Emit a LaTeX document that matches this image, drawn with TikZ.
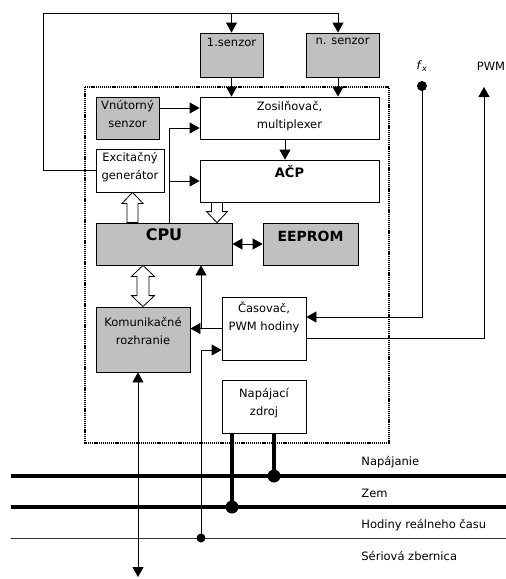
\documentclass[tikz,border=0pt]{standalone}
\usepackage{fontspec}
\setmainfont{DejaVu Sans}
\usetikzlibrary{arrows.meta,calc}
\definecolor{boxgray}{RGB}{192,192,192}
\newcommand{\bxt}[4]{\parbox[c][#2pt][t]{#1pt}{\centering\vspace*{#3pt}#4\par}}
\newcommand{\blockarrow}[2]{%
  \draw[fill=white, line width=0.8pt] let \p1=#1, \p2=#2, \n1={ifthenelse(\y2>\y1,1,-1)} in
  (\x1-5.5pt,\y1) -- (\x1-5.5pt,\y2-\n1*11pt) -- (\x1-10.5pt,\y2-\n1*11pt) -- (\x1,\y2)
  -- (\x1+10.5pt,\y2-\n1*11pt) -- (\x1+5.5pt,\y2-\n1*11pt) -- (\x1+5.5pt,\y1) -- cycle;}
\newcommand{\dblockarrow}[2]{%
  \draw[fill=white, line width=0.8pt] let \p1=#1, \p2=#2 in
  (\x1,\y1) -- (\x1+11.5pt,\y1-11pt) -- (\x1+6pt,\y1-11pt) -- (\x1+6pt,\y2+11pt)
  -- (\x1+11.5pt,\y2+11pt) -- (\x1,\y2) -- (\x1-11.5pt,\y2+11pt) -- (\x1-6pt,\y2+11pt)
  -- (\x1-6pt,\y1-11pt) -- (\x1-11.5pt,\y1-11pt) -- cycle;}
\begin{document}
\begin{tikzpicture}[x=1pt,y=-1pt,line width=0.8pt,
  >={Triangle[length=10pt,width=11pt]},
  font=\fontsize{11.5}{18}\selectfont,
  box/.style={draw,line width=0.8pt,inner sep=0pt,fill=white},
  gbox/.style={box,fill=boxgray},
  lbl/.style={inner sep=0pt,anchor=west},
  bus/.style={line width=4pt},
  thinbus/.style={line width=0.9pt,black!80}]
\useasboundingbox (0,0) rectangle (506,579);

% dotted frame
\draw[line width=1.6pt,dash pattern=on 1.2pt off 0.9pt] (85,87) rectangle (389,443);

% boxes
\node[gbox] (s1) at (231.5,55) {\bxt{63}{44}{5}{1.senzor}};
\node[gbox] (sn) at (342.5,55) {\bxt{73}{44}{5}{n. senzor}};
\node[gbox] (vs) at (127.5,118) {\bxt{63}{42}{3}{Vnútorný\\senzor}};
\node[box] (zm) at (289.5,118) {\bxt{179}{42}{4.5}{Zosilňovač,\\multiplexer}};
\node[box] (eg) at (130,170.5) {\bxt{68}{43}{3.5}{Excitačný\\generátor}};
\node[box] (acp) at (289.5,181) {\bxt{179}{42}{5}{\fontsize{13}{18}\selectfont\textbf{AČP}}};
\node[gbox] (cpu) at (164,244) {\bxt{136}{42}{6}{\fontsize{16}{18}\selectfont\textbf{CPU}}};
\node[gbox] (ee) at (310.5,244) {\bxt{95}{42}{8.5}{\fontsize{14}{18}\selectfont\textbf{EEPROM}}};
\node[gbox] (kom) at (143,339.5) {\bxt{94}{65}{10}{Komunikačné\\rozhranie}};
\node[box] (cas) at (264,328.5) {\bxt{84}{63}{5}{Časovač,\\PWM hodiny}};
\node[box] (nap) at (264,406.5) {\bxt{84}{53}{8}{Napájací\\zdroj}};

% helper coordinates
\coordinate (tl) at (43,13);
\coordinate (snin) at ([xshift=-4.5pt]sn.north);
\coordinate (j1) at (169,128);
\coordinate (xj) at (201,0);
\coordinate (ba) at (217,0);
\coordinate (bb) at (132.5,0);
\coordinate (kb) at (138,577);
\coordinate (fxd) at (422,86);
\coordinate (pwmtip) at (484,87);
\coordinate (napL) at (11,476); \coordinate (napR) at (506,476);
\coordinate (zemL) at (11,507); \coordinate (zemR) at (506,507);
\coordinate (hodL) at (11,538); \coordinate (hodR) at (506,538);
\coordinate (pz1) at ([xshift=-32pt]nap.south);
\coordinate (pz2) at ([xshift=10pt]nap.south);

% top feedback loop
\draw[->] (eg.west) -| (tl) -- (tl -| snin) -- (snin);
\draw[->] (tl -| s1.north) -- (s1.north);
\draw[->] (s1.south) -- (s1.south |- zm.north);
\draw[->] ([xshift=-4.5pt]sn.south) -- ([xshift=-4.5pt]sn.south |- zm.north);

% internal connections
\draw[->] ([yshift=10pt]vs.east) -- ([yshift=10pt]vs.east -| zm.west);
\draw[->] (j1 |- cpu.north) -- (j1) -- (j1 -| zm.west);
\draw[->] (j1 |- acp.west) -- (acp.west);
\draw[->] ([xshift=-4.5pt]zm.south) -- ([xshift=-4.5pt]acp.north);
\blockarrow{(ba |- acp.south)}{(ba |- cpu.north)}
\blockarrow{(bb |- cpu.north)}{(bb |- eg.south)}
\dblockarrow{(cpu.south -| kom.north)}{(kom.north)}
\draw[<->] (cpu.east) -- (ee.west);
\draw[->] (cas.west) -- (cas.west -| kom.east);
\draw[->] (cas.west -| xj) -- (xj |- cpu.south);

% bus lines
\draw[bus] (napL) -- (napR);
\draw[bus] (zemL) -- (zemR);
\draw[thinbus] (hodL) -- (hodR);

% clock line to timer
\draw[->] (xj |- hodL) |- ([yshift=-21.5pt]cas.west);
\fill (xj |- hodL) circle (4.5pt);

% fx and PWM
\draw[->] (fxd) |- ([yshift=11.5pt]cas.east);
\fill (fxd) circle (5pt);
\draw[->] ([yshift=-9.5pt]cas.east) -| (pwmtip);

% power supply
\draw[line width=4pt] (pz1) -- (pz1 |- zemL);
\draw[line width=4pt] (pz2) -- (pz2 |- napL);
\fill (pz1 |- zemL) circle (6.5pt);
\fill (pz2 |- napL) circle (6.5pt);

% serial bus arrow
\draw[<->] (kb |- kom.south) -- (kb);

% labels
\node (lfx) at (422,66) {\textit{f}\textsubscript{\textit{x}}};
\node (lpwm) at (491,66) {PWM};
\node[lbl] (lnap) at (361,462) {Napájanie};
\node[lbl] (lzem) at (361,493) {Zem};
\node[lbl] (lhod) at (361,525) {Hodiny reálneho času};
\node[lbl] (lser) at (361,556) {Sériová zbernica};
\end{tikzpicture}
\end{document}
